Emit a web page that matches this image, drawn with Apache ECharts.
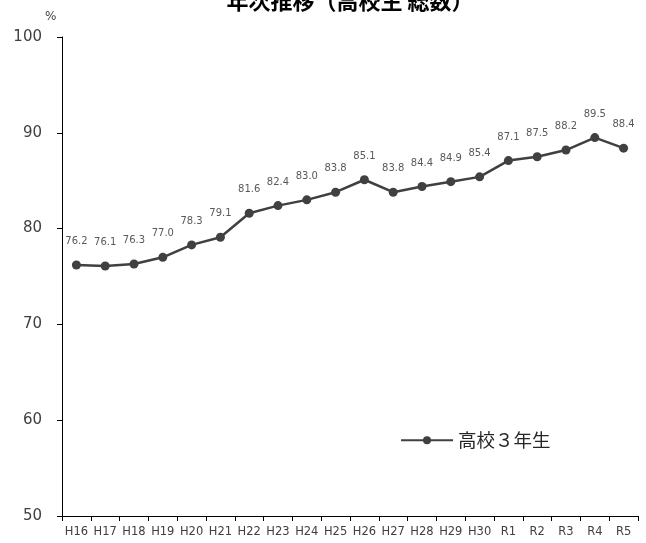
<!DOCTYPE html>
<html><head><meta charset="utf-8">
<script src="https://cdn.jsdelivr.net/npm/echarts@6/dist/echarts.min.js"></script>
<style>html,body{margin:0;padding:0;background:#fff}#c{width:646px;height:543px}</style>
</head><body><div id="c"></div>
<script>
const categories = ['H16','H17','H18','H19','H20','H21','H22','H23','H24','H25','H26','H27','H28','H29','H30','R1','R2','R3','R4','R5'];
const values = [76.2,76.1,76.3,77.0,78.3,79.1,81.6,82.4,83.0,83.8,85.1,83.8,84.4,84.9,85.4,87.1,87.5,88.2,89.5,88.4];
const seriesName = '高校３年生';
const titleText = '年次推移（高校生 総数）';

const chart = echarts.init(document.getElementById('c'), null, {renderer:'canvas'});
chart.setOption({
  animation:false,
  backgroundColor:'#fff',
  title:{text:titleText,left:345,textAlign:'center',top:-15,
    textStyle:{fontSize:22,fontWeight:'bold',color:'#000',fontFamily:'Noto Sans CJK JP'}},
  graphic:[{type:'text',left:45,top:11,style:{text:'%',fontSize:12,fill:'#404040',fontFamily:'DejaVu Sans'}}],
  legend:{left:395,top:426,itemWidth:52,itemHeight:10,itemGap:6,
    textStyle:{fontSize:18.5,color:'#262626',fontFamily:'Noto Sans CJK JP'},
    data:[seriesName]},
  grid:{left:62,right:8,top:37,bottom:27},
  xAxis:{type:'category',data:categories,boundaryGap:true,
    axisLine:{lineStyle:{color:'#000',width:1}},
    axisTick:{show:true,length:5,inside:false,alignWithLabel:false,lineStyle:{color:'#000'}},
    axisLabel:{margin:10,fontSize:11.5,color:'#404040',fontFamily:'DejaVu Sans',interval:0},
    splitLine:{show:false}},
  yAxis:{type:'value',min:50,max:100,interval:10,
    axisLine:{show:true,lineStyle:{color:'#000',width:1}},
    axisTick:{show:true,length:5,lineStyle:{color:'#000'}},
    axisLabel:{margin:20,fontSize:15,color:'#404040',fontFamily:'DejaVu Sans'},
    splitLine:{show:false}},
  series:[{name:seriesName,type:'line',data:values,
    symbol:'circle',symbolSize:9,
    lineStyle:{color:'#404040',width:2.5},
    itemStyle:{color:'#404040'},
    label:{show:true,position:'top',distance:14,fontSize:10,color:'#595959',fontFamily:'DejaVu Sans',
      formatter:p=>p.value.toFixed(1)}}]
});
</script></body></html>
